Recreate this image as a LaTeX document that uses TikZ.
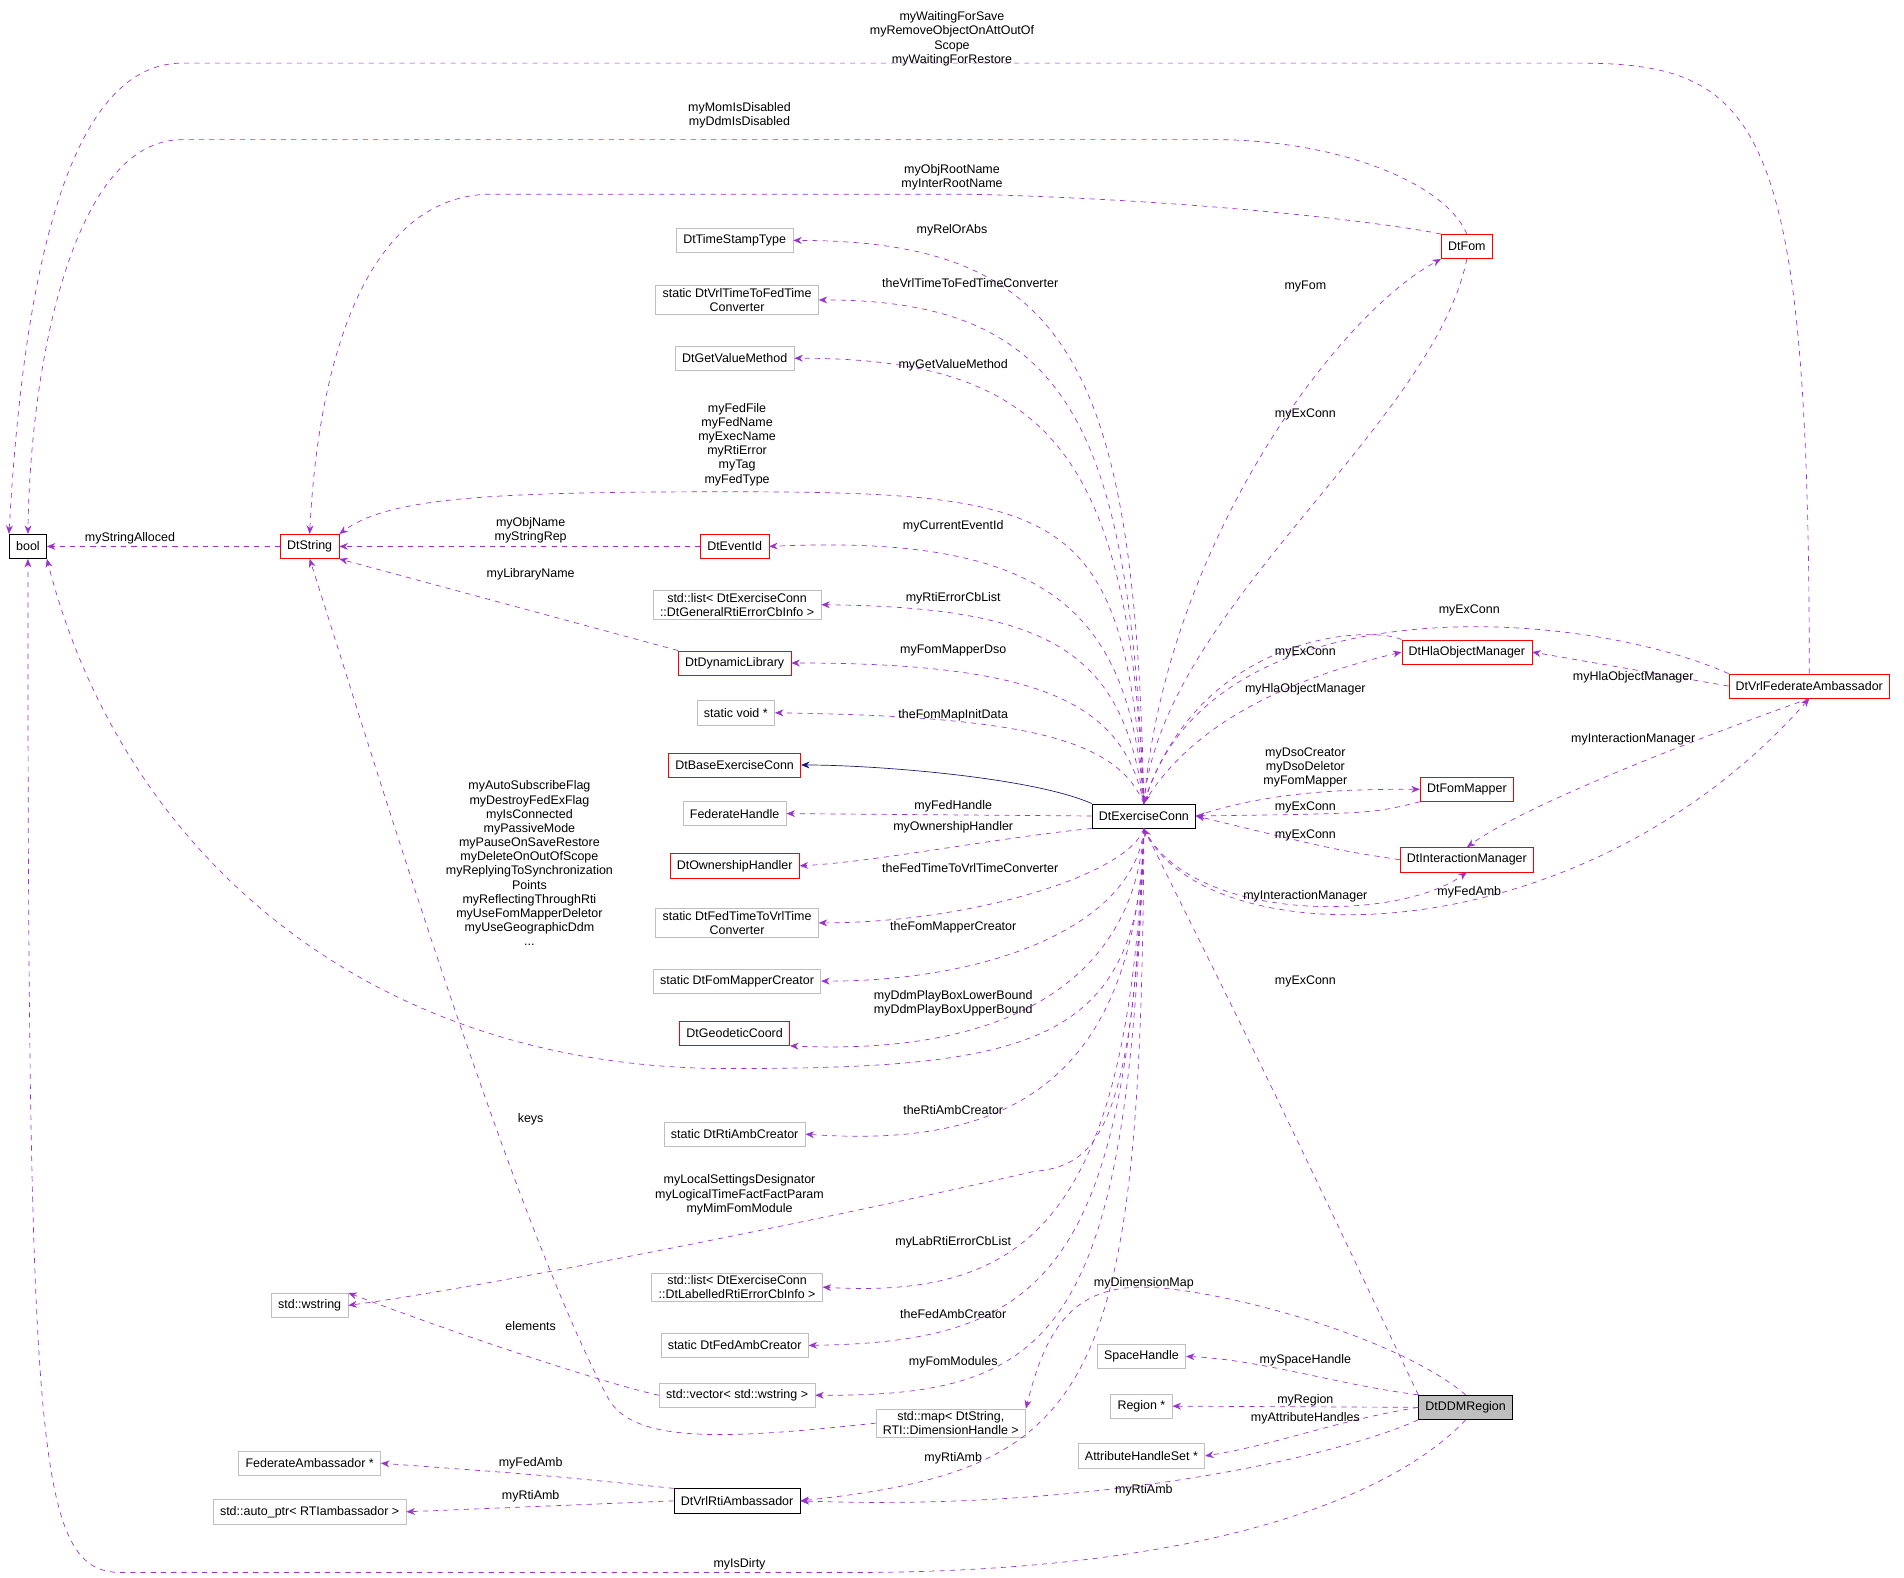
\documentclass[tikz,border=0pt]{standalone}
\usepackage{fontspec}
\setmainfont{Liberation Sans}
\usetikzlibrary{arrows.meta}
\definecolor{edgepurple}{HTML}{9A32CD}
\definecolor{inhnavy}{HTML}{191970}
\definecolor{boxgray}{HTML}{BFBFBF}
\tikzset{
  cls/.style={draw,rectangle,inner xsep=4pt,inner ysep=1.5pt,minimum height=0.5cm,align=center,font=\fontsize{7.3}{8.3}\selectfont},
  gbox/.style={cls,draw=boxgray},
  rbox/.style={cls,draw=red},
  bbox/.style={cls,draw=black},
  mem/.style={draw=edgepurple,dashed,-{Stealth[length=5pt,width=4pt]}},
  inh/.style={draw=inhnavy,-{Stealth[length=5pt,width=4pt]}},
  lbl/.style={align=center,inner sep=0pt,font=\fontsize{7.3}{8.3}\selectfont}
}
\begin{document}
\begin{tikzpicture}[x=0.025cm,y=-0.025cm]
\useasboundingbox (0,0) rectangle (1568,1299);
% classes
\node[bbox] (bool) at (23,450) {bool};
\node[rbox] (dts) at (255,450) {DtString};
\node[rbox] (evid) at (605,450) {DtEventId};
\node[gbox] (ts) at (605,198) {DtTimeStampType};
\node[gbox] (vtf) at (607,247) {static DtVrlTimeToFedTime\\Converter};
\node[gbox] (gvm) at (605,295) {DtGetValueMethod};
\node[gbox] (lgen) at (607,498) {std::list< DtExerciseConn\\::DtGeneralRtiErrorCbInfo >};
\node[rbox] (dl) at (605,546) {DtDynamicLibrary};
\node[gbox] (sv) at (606,587) {static void *};
\node[rbox] (base) at (605,630) {DtBaseExerciseConn};
\node[gbox] (fh) at (605,670) {FederateHandle};
\node[rbox] (own) at (605,713) {DtOwnershipHandler};
\node[gbox] (ftv) at (607,760) {static DtFedTimeToVrlTime\\Converter};
\node[gbox] (fmc) at (607,808) {static DtFomMapperCreator};
\node[rbox] (geo) at (605,851) {DtGeodeticCoord};
\node[gbox] (rac) at (605,934) {static DtRtiAmbCreator};
\node[gbox] (llab) at (607,1060) {std::list< DtExerciseConn\\::DtLabelledRtiErrorCbInfo >};
\node[gbox] (fac) at (605,1108) {static DtFedAmbCreator};
\node[gbox] (vec) at (607,1149) {std::vector< std::wstring >};
\node[gbox] (map) at (783,1172) {std::map< DtString,\\ RTI::DimensionHandle >};
\node[gbox] (ws) at (255,1075) {std::wstring};
\node[gbox] (fa) at (255,1205) {FederateAmbassador *};
\node[gbox] (ap) at (255,1245) {std::auto\_ptr< RTIambassador >};
\node[bbox] (rtiamb) at (607,1236) {DtVrlRtiAmbassador};
\node[bbox] (ex) at (942,672) {DtExerciseConn};
\node[rbox] (fom) at (1208,203) {DtFom};
\node[rbox] (hla) at (1208,537) {DtHlaObjectManager};
\node[rbox] (fm) at (1208,650) {DtFomMapper};
\node[rbox] (im) at (1208,708) {DtInteractionManager};
\node[rbox] (vfa) at (1490,565) {DtVrlFederateAmbassador};
\node[gbox] (sp) at (940,1117) {SpaceHandle};
\node[gbox] (reg) at (940,1158) {Region *};
\node[gbox] (ahs) at (940,1199) {AttributeHandleSet *};
\node[bbox,fill=boxgray] (ddm) at (1207,1159) {DtDDMRegion};
% members
\draw[mem] (dts.west) -- (bool.east);
\draw[mem] (evid.west) -- (dts.east);
\draw[mem] (dl.north west) -- (dts.south east);
\draw[mem] (fom.north) .. controls (1190,150) and (1100,115) .. (1000,115) -- (150,115) .. controls (60,115) and (25,300) .. (bool.north);
\draw[mem] (vfa.north) .. controls (1490,100) and (1450,52) .. (1300,52) -- (150,52) .. controls (50,52) and (18,250) .. (bool.north west);
\draw[mem] (fom.north west) .. controls (1150,185) and (1000,165) .. (800,160) -- (400,160) .. controls (300,165) and (262,300) .. (dts.north);
\draw[mem] (ex.north) .. controls (935,300) and (880,198) .. (ts.east);
\draw[mem] (ex.north) .. controls (930,350) and (880,247) .. (vtf.east);
\draw[mem] (ex.north) .. controls (930,380) and (870,295) .. (gvm.east);
\draw[mem] (ex.north) .. controls (925,420) and (880,405) .. (600,405) .. controls (400,405) and (320,410) .. (dts.north east);
\draw[mem] (ex.north) .. controls (930,500) and (860,440) .. (evid.east);
\draw[mem] (ex.north) .. controls (925,540) and (870,500) .. (lgen.east);
\draw[mem] (ex.north) .. controls (925,580) and (860,546) .. (dl.east);
\draw[mem] (ex.north) .. controls (920,610) and (850,590) .. (sv.east);
\draw[inh] (ex.north west) .. controls (850,640) and (720,630) .. (base.east);
\draw[mem] (ex.west) -- (fh.east);
\draw[mem] (ex.south west) .. controls (820,690) and (720,710) .. (own.east);
\draw[mem] (ex.south) .. controls (930,720) and (800,760) .. (ftv.east);
\draw[mem] (ex.south) .. controls (935,760) and (820,808) .. (fmc.east);
\draw[mem] (ex.south) .. controls (935,800) and (840,870) .. (geo.south east);
\draw[mem] (ex.south) .. controls (940,860) and (850,880) .. (600,880) .. controls (300,880) and (100,700) .. (bool.south east);
\draw[mem] (ex.south) .. controls (935,900) and (820,945) .. (rac.east);
\draw[mem] (ex.south) .. controls (935,940) and (900,960) .. (850,965) .. controls (700,1000) and (400,1060) .. (ws.east);
\draw[mem] (ex.south) .. controls (930,1000) and (850,1070) .. (llab.east);
\draw[mem] (ex.south) .. controls (930,1050) and (860,1105) .. (fac.east);
\draw[mem] (ex.south) .. controls (930,1100) and (870,1150) .. (vec.east);
\draw[mem] (ex.south) .. controls (940,1150) and (900,1210) .. (rtiamb.east);
\draw[mem] (ex.north) .. controls (960,450) and (1100,260) .. (fom.south west);
\draw[mem] (fom.south) .. controls (1180,350) and (960,500) .. (ex.north);
\draw[mem] (hla.north west) .. controls (1130,515) and (990,520) .. (ex.north);
\draw[mem] (ex.north) .. controls (990,580) and (1100,550) .. (hla.west);
\draw[mem] (vfa.north west) .. controls (1300,500) and (1000,480) .. (ex.north);
\draw[mem] (vfa.west) -- (hla.east);
\draw[mem] (ex.east) .. controls (1050,650) and (1120,650) .. (fm.west);
\draw[mem] (fm.south west) .. controls (1130,670) .. (ex.east);
\draw[mem] (im.west) .. controls (1100,700) .. (ex.east);
\draw[mem] (ex.south) .. controls (980,760) and (1150,760) .. (im.south);
\draw[mem] (vfa.south) .. controls (1420,600) and (1260,660) .. (im.north);
\draw[mem] (ex.south) .. controls (990,790) and (1300,790) .. (vfa.south);
\draw[mem] (ddm.north west) .. controls (1050,900) .. (ex.south);
\draw[mem] (ddm.north west) .. controls (1100,1140) and (1040,1120) .. (sp.east);
\draw[mem] (ddm.west) -- (reg.east);
\draw[mem] (ddm.west) .. controls (1100,1170) and (1050,1190) .. (ahs.east);
\draw[mem] (ddm.south west) .. controls (1100,1200) and (900,1245) .. (rtiamb.east);
\draw[mem] (ddm.south) .. controls (1150,1230) and (1000,1295) .. (700,1295) -- (100,1295) .. controls (30,1295) and (23,1200) .. (bool.south);
\draw[mem] (ddm.north) .. controls (1150,1100) and (1000,1060) .. (940,1060) .. controls (880,1060) and (860,1100) .. (map.north east);
\draw[mem] (vec.west) .. controls (500,1140) and (380,1100) .. (ws.north east);
\draw[mem] (map.west) .. controls (600,1185) and (520,1190) .. (500,1150) .. controls (420,1000) and (300,600) .. (dts.south);
\draw[mem] (rtiamb.north west) .. controls (450,1215) .. (fa.east);
\draw[mem] (rtiamb.west) -- (ap.east);
% labels
\node[lbl] (l1) at (107,443) {myStringAlloced};
\node[lbl] (l2) at (437,437) {myObjName\\myStringRep};
\node[lbl] (l3) at (437,473) {myLibraryName};
\node[lbl] (l4) at (784,32) {myWaitingForSave\\myRemoveObjectOnAttOutOf\\Scope\\myWaitingForRestore};
\node[lbl] (l5) at (609,95) {myMomIsDisabled\\myDdmIsDisabled};
\node[lbl] (l6) at (784,146) {myObjRootName\\myInterRootName};
\node[lbl] (l7) at (784,190) {myRelOrAbs};
\node[lbl] (l8) at (799,233) {theVrlTimeToFedTimeConverter};
\node[lbl] (l9) at (785,301) {myGetValueMethod};
\node[lbl] (l10) at (607,366) {myFedFile\\myFedName\\myExecName\\myRtiError\\myTag\\myFedType};
\node[lbl] (l11) at (785,433) {myCurrentEventId};
\node[lbl] (l12) at (785,493) {myRtiErrorCbList};
\node[lbl] (l13) at (785,536) {myFomMapperDso};
\node[lbl] (l14) at (785,589) {theFomMapInitData};
\node[lbl] (l15) at (785,664) {myFedHandle};
\node[lbl] (l16) at (785,681) {myOwnershipHandler};
\node[lbl] (l17) at (799,715) {theFedTimeToVrlTimeConverter};
\node[lbl] (l18) at (785,764) {theFomMapperCreator};
\node[lbl] (l19) at (785,826) {myDdmPlayBoxLowerBound\\myDdmPlayBoxUpperBound};
\node[lbl] (l20) at (436,711) {myAutoSubscribeFlag\\myDestroyFedExFlag\\myIsConnected\\myPassiveMode\\myPauseOnSaveRestore\\myDeleteOnOutOfScope\\myReplyingToSynchronization\\Points\\myReflectingThroughRti\\myUseFomMapperDeletor\\myUseGeographicDdm\\...};
\node[lbl] (l21) at (785,914) {theRtiAmbCreator};
\node[lbl] (l22) at (437,922) {keys};
\node[lbl] (l23) at (609,984) {myLocalSettingsDesignator\\myLogicalTimeFactFactParam\\myMimFomModule};
\node[lbl] (l24) at (785,1023) {myLabRtiErrorCbList};
\node[lbl] (l25) at (785,1082) {theFedAmbCreator};
\node[lbl] (l26) at (785,1122) {myFomModules};
\node[lbl] (l27) at (942,1057) {myDimensionMap};
\node[lbl] (l28) at (437,1092) {elements};
\node[lbl] (l29) at (1075,1120) {mySpaceHandle};
\node[lbl] (l30) at (1075,1153) {myRegion};
\node[lbl] (l31) at (1075,1168) {myAttributeHandles};
\node[lbl] (l32) at (785,1201) {myRtiAmb};
\node[lbl] (l33) at (942,1227) {myRtiAmb};
\node[lbl] (l34) at (437,1205) {myFedAmb};
\node[lbl] (l35) at (437,1232) {myRtiAmb};
\node[lbl] (l36) at (609,1288) {myIsDirty};
\node[lbl] (l37) at (1075,236) {myFom};
\node[lbl] (l38) at (1075,341) {myExConn};
\node[lbl] (l39) at (1210,503) {myExConn};
\node[lbl] (l40) at (1075,537) {myExConn};
\node[lbl] (l41) at (1075,568) {myHlaObjectManager};
\node[lbl] (l42) at (1345,558) {myHlaObjectManager};
\node[lbl] (l43) at (1345,609) {myInteractionManager};
\node[lbl] (l44) at (1075,632) {myDsoCreator\\myDsoDeletor\\myFomMapper};
\node[lbl] (l45) at (1075,665) {myExConn};
\node[lbl] (l46) at (1075,688) {myExConn};
\node[lbl] (l47) at (1075,738) {myInteractionManager};
\node[lbl] (l48) at (1210,735) {myFedAmb};
\node[lbl] (l49) at (1075,808) {myExConn};
\end{tikzpicture}
\end{document}
